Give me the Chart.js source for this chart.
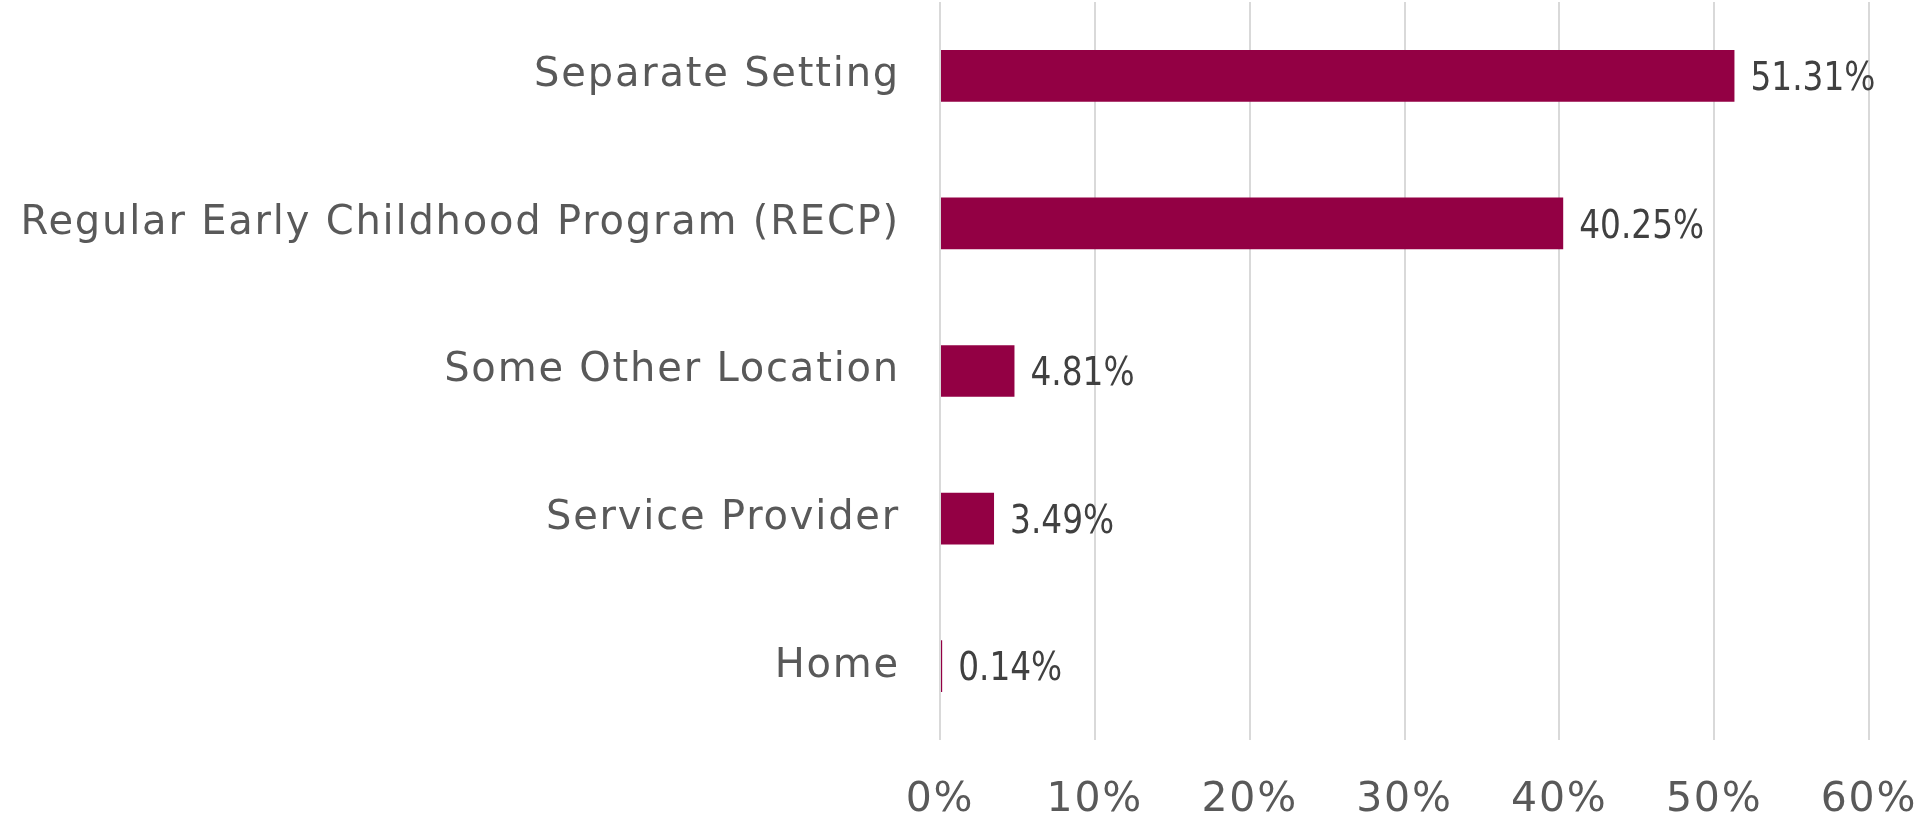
<!DOCTYPE html>
<html>
<head>
<meta charset="utf-8">
<script src="https://cdn.jsdelivr.net/npm/chart.js@4.4.1/dist/chart.umd.min.js"></script>
<style>
  html, body { margin: 0; padding: 0; background: #fff; }
  #wrap { width: 1924px; height: 822px; position: relative; }
</style>
</head>
<body>
<div id="wrap"><canvas id="settingChart"></canvas></div>
<script>
const categories = ['Separate Setting', 'Regular Early Childhood Program (RECP)', 'Some Other Location', 'Service Provider', 'Home'];
const shares = [51.31, 40.25, 4.81, 3.49, 0.14];
const tickValues = [0, 10, 20, 30, 40, 50, 60];

const FONT = '"DejaVu Sans", sans-serif';

// a bit of tracking, the original font is a wide one
const spacing = {
  id: 'spacing',
  beforeUpdate(chart) { chart.ctx.letterSpacing = '1.8px'; },
  beforeDraw(chart) { chart.ctx.letterSpacing = '1.8px'; }
};

// draws the value next to the end of each bar
const valueLabels = {
  id: 'valueLabels',
  afterDatasetsDraw(chart) {
    const c = chart.ctx;
    const meta = chart.getDatasetMeta(0);
    c.save();
    c.letterSpacing = '0px';
    c.font = '39px ' + FONT;
    c.fillStyle = '#404040';
    c.textAlign = 'left';
    c.textBaseline = 'middle';
    meta.data.forEach((bar, i) => {
      c.save();
      c.translate(bar.x + 16, bar.y + 4);
      c.scale(0.84, 1);
      c.fillText(shares[i].toFixed(2) + '%', 0, 0);
      c.restore();
    });
    c.restore();
  }
};

const ctx = document.getElementById('settingChart').getContext('2d');
new Chart(ctx, {
  type: 'bar',
  data: {
    labels: categories,
    datasets: [{
      data: shares,
      backgroundColor: '#930044',
      barPercentage: 0.35,
      categoryPercentage: 1
    }]
  },
  plugins: [spacing, valueLabels],
  options: {
    indexAxis: 'y',
    responsive: true,
    maintainAspectRatio: false,
    animation: false,
    layout: { padding: { top: 2, right: 55, bottom: 0, left: 0 } },
    plugins: {
      legend: { display: false },
      tooltip: { enabled: false }
    },
    scales: {
      x: {
        min: 0,
        max: 60,
        afterBuildTicks(scale) {
          scale.ticks = tickValues.map(v => ({ value: v }));
        },
        afterFit(scale) {
          scale.height = 82;
          scale.paddingLeft = 0;
          scale.paddingRight = 0;
        },
        grid: { color: '#d9d9d9', lineWidth: 2, drawTicks: false },
        border: { display: false },
        ticks: {
          padding: 36,
          color: '#595959',
          font: { family: FONT, size: 41 },
          callback: v => v + '%'
        }
      },
      y: {
        afterFit(scale) {
          scale.width = 940;
          scale.paddingTop = 0;
          scale.paddingBottom = 0;
        },
        grid: { display: false, drawTicks: false },
        border: { display: false },
        ticks: {
          padding: 40,
          color: '#595959',
          font: { family: FONT, size: 40 }
        }
      }
    }
  }
});
</script>
</body>
</html>
